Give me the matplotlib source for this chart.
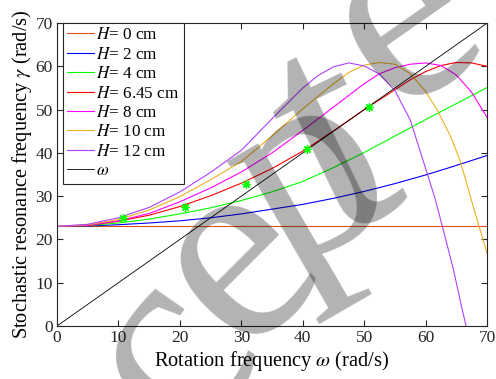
import matplotlib
matplotlib.use('Agg')
import matplotlib.pyplot as plt

plt.rcParams['font.family'] = ['Liberation Serif', 'DejaVu Serif']
plt.rcParams['mathtext.fontset'] = 'stix'

# curves
w = [0, 5, 10, 15, 20, 25, 30, 35, 40, 45, 50, 55, 60, 65, 70]
g_h0 = [23.0] * 15
g_h2 = [23.0, 23.1, 23.4, 23.8, 24.3, 25.0, 25.9, 27.0, 28.1, 29.5, 31.1, 32.9, 34.9, 37.1, 39.4]
g_h4 = [23.0, 23.2, 23.8, 24.7, 25.9, 27.3, 29.0, 31.0, 33.4, 36.6, 40.1, 43.9, 47.7, 51.4, 55.1]

w_h645 = [0, 5, 10, 15, 20, 25, 30, 35, 40, 45, 50, 55, 57.5, 60, 62.5, 65, 67.5, 70]
g_h645 = [23.0, 23.2, 24.2, 25.6, 27.6, 30.1, 33.0, 36.4, 40.4, 45.1, 50.0, 54.6, 56.9, 58.8, 60.2, 60.9, 60.8, 60.0]

w_h8 = [0, 5, 10, 15, 20, 25, 30, 35, 40, 45, 50, 52.5, 55, 57.5, 60, 62.5, 65, 67.5, 70]
g_h8 = [23.0, 23.3, 24.3, 26.0, 28.7, 31.9, 35.6, 40.0, 45.2, 50.6, 56.0, 58.3, 59.7, 60.5, 60.8, 60.2, 58.0, 54.0, 48.2]

w_h10 = [0, 5, 10, 15, 20, 25, 30, 35, 40, 45, 47.5, 50, 52.5, 55, 57.5, 60, 62, 64, 65.5, 66.5, 67.5, 68.7, 70]
g_h10 = [23.0, 23.4, 24.6, 26.8, 29.9, 33.8, 38.0, 43.9, 50.2, 56.0, 58.6, 60.3, 60.9, 60.5, 58.3, 54.2, 49.6, 44.0, 38.6, 33.9, 28.8, 23.0, 16.8]

w_h12 = [0, 5, 10, 15, 20, 25, 30, 35, 40, 42.5, 45, 47.5, 50, 52.5, 55, 57.5, 60, 61.5, 63, 64.5, 66, 67]
g_h12 = [23.0, 23.5, 25.0, 27.4, 31.0, 35.5, 40.6, 47.9, 55.0, 57.9, 59.9, 60.8, 60.1, 58.2, 54.4, 47.6, 36.4, 29.6, 21.5, 13.2, 3.5, -2.5]

w_line = [0, 70]

# measured points (green asterisks)
w_exp = [10.8, 20.8, 30.7, 40.7, 50.8]
g_exp = [24.9, 27.6, 32.8, 40.9, 50.6]

fig = plt.figure(figsize=(4.96, 3.79), dpi=100)
ax = fig.add_axes([0.115, 0.14, 0.867, 0.799])

lw = 0.8
ax.plot(w, g_h0, color='#D95319', lw=lw, label='$H$= 0 cm')
ax.plot(w, g_h2, color='#0000FF', lw=lw, label='$H$= 2 cm')
ax.plot(w, g_h4, color='#00FF00', lw=lw, label='$H$= 4 cm')
ax.plot(w_h645, g_h645, color='#FF0000', lw=lw, label='$H$= 6.45 cm')
ax.plot(w_h8, g_h8, color='#FF00FF', lw=lw, label='$H$= 8 cm')
ax.plot(w_h10, g_h10, color='#EDB120', lw=lw, label='$H$= 10 cm')
ax.plot(w_h12, g_h12, color='#B040FF', lw=lw, label='$H$= 12 cm')
ax.plot(w_line, w_line, color='black', lw=0.6, label=r'$\omega$')
ax.plot(w_exp, g_exp, ls='none', marker=(8, 2, 0), ms=6, mew=0.9, color='#00FF00')

ax.set_xlim(0, 70)
ax.set_ylim(0, 70)
ax.set_xticks(range(0, 71, 10))
ax.set_yticks(range(0, 71, 10))
ax.tick_params(direction='in', top=True, right=True, labelsize=12.5, length=4, width=0.8, colors='#262626', pad=3)
for s in ax.spines.values():
    s.set_linewidth(0.8)
    s.set_color('#262626')

ax.set_xlabel(r'Rotation frequency $\omega$ (rad/s)', fontsize=14.7, labelpad=2)
ax.set_ylabel(r'Stochastic resonance frequency $\gamma$ (rad/s)', fontsize=14.7, labelpad=1)

leg = ax.legend(loc='upper left', bbox_to_anchor=(0.014, 1.0), fontsize=12.3,
                handlelength=1.55, handletextpad=0.15, labelspacing=0.2,
                borderpad=0.25, borderaxespad=0, fancybox=False,
                framealpha=1, edgecolor='#262626')
leg.get_frame().set_linewidth(0.8)

# "Accepted" watermark, letter by letter
wm_letters = ['c', 'e', 'p', 't', 'e']
wm_x = [172, 237, 312, 338, 405]
wm_y = [355, 262, 180, 150, 22]
wm_rot = [55, 45, 30, 26, 35]
wm_size = [200, 200, 200, 230, 200]
for ch, x, y, r, fs in zip(wm_letters, wm_x, wm_y, wm_rot, wm_size):
    fig.text(x / 496, 1 - y / 379, ch, fontsize=fs, rotation=r, color=(0, 0, 0, 0.3),
             ha='center', va='center', rotation_mode='anchor', zorder=10)

fig.savefig('out.png', dpi=100)
